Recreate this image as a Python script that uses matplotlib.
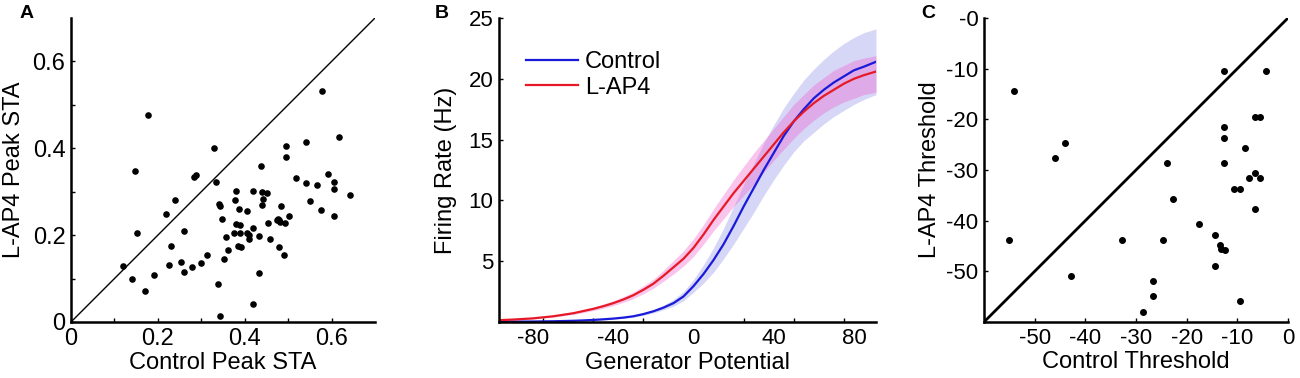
import matplotlib
matplotlib.use("Agg")
import matplotlib.pyplot as plt
from matplotlib.ticker import FixedLocator

plt.rcParams['font.family'] = ['Liberation Sans', 'DejaVu Sans']

# panel A: peak STA, control vs L-AP4
ctrl_sta = [0.178, 0.577, 0.330, 0.495, 0.540, 0.618, 0.495, 0.147, 0.287, 0.283,
            0.437, 0.333, 0.517, 0.591, 0.540, 0.566, 0.606, 0.606, 0.643, 0.381,
            0.418, 0.440, 0.451, 0.442, 0.377, 0.240, 0.340, 0.344, 0.440, 0.483,
            0.387, 0.405, 0.550, 0.575, 0.606, 0.502, 0.219, 0.347, 0.477, 0.480,
            0.475, 0.482, 0.492, 0.453, 0.381, 0.389, 0.419, 0.261, 0.153, 0.375,
            0.389, 0.405, 0.409, 0.411, 0.432, 0.358, 0.459, 0.230, 0.384, 0.391,
            0.480, 0.362, 0.490, 0.313, 0.353, 0.253, 0.300, 0.119, 0.226, 0.279,
            0.261, 0.432, 0.191, 0.141, 0.339, 0.170, 0.419, 0.343]
lap4_sta = [0.477, 0.532, 0.400, 0.405, 0.415, 0.425, 0.381, 0.348, 0.339, 0.333,
            0.360, 0.322, 0.332, 0.340, 0.319, 0.316, 0.322, 0.307, 0.293, 0.302,
            0.302, 0.300, 0.296, 0.284, 0.280, 0.282, 0.271, 0.267, 0.270, 0.267,
            0.261, 0.255, 0.279, 0.257, 0.244, 0.244, 0.248, 0.238, 0.238, 0.234,
            0.234, 0.231, 0.228, 0.227, 0.225, 0.223, 0.217, 0.210, 0.204, 0.205,
            0.205, 0.205, 0.201, 0.192, 0.198, 0.195, 0.190, 0.175, 0.175, 0.172,
            0.173, 0.166, 0.154, 0.154, 0.145, 0.139, 0.137, 0.130, 0.132, 0.127,
            0.116, 0.112, 0.108, 0.098, 0.087, 0.071, 0.041, 0.014]

# panel B: nonlinearity
gen_pot = [-97, -90, -80, -70, -60, -55, -50, -45, -40, -35, -30, -25, -20, -15, -10,
           -5, 0, 5, 10, 15, 20, 25, 30, 35, 40, 45, 50, 55, 60, 65, 70, 75, 80, 85, 91]
ctrl_rate = [0.02, 0.03, 0.04, 0.06, 0.1, 0.13, 0.17, 0.22, 0.28, 0.36, 0.47, 0.65, 0.88,
             1.18, 1.55, 2.1, 2.95, 3.95, 5.1, 6.4, 7.9, 9.5, 11.0, 12.5, 13.9, 15.3,
             16.5, 17.5, 18.4, 19.1, 19.7, 20.2, 20.7, 21.0, 21.4]
ctrl_lo = [0.01, 0.02, 0.03, 0.05, 0.08, 0.11, 0.14, 0.19, 0.24, 0.31, 0.4, 0.55, 0.75,
           1.0, 1.3, 1.75, 2.45, 3.2, 4.1, 5.2, 6.4, 7.7, 9.0, 10.4, 11.7, 12.9,
           14.0, 14.9, 15.6, 16.3, 16.9, 17.4, 17.9, 18.3, 18.7]
ctrl_hi = [0.03, 0.04, 0.05, 0.07, 0.12, 0.15, 0.2, 0.26, 0.33, 0.42, 0.55, 0.76, 1.03,
           1.38, 1.85, 2.5, 3.5, 4.7, 6.1, 7.7, 9.5, 11.3, 13.0, 14.7, 16.2, 17.6,
           18.8, 19.9, 20.8, 21.6, 22.3, 22.9, 23.4, 23.8, 24.1]
lap4_rate = [0.15, 0.2, 0.3, 0.47, 0.72, 0.9, 1.08, 1.3, 1.55, 1.85, 2.2, 2.65, 3.15,
             3.8, 4.5, 5.2, 6.1, 7.2, 8.4, 9.5, 10.6, 11.6, 12.6, 13.6, 14.6, 15.6,
             16.5, 17.3, 18.0, 18.6, 19.1, 19.6, 20.0, 20.3, 20.6]
lap4_lo = [0.12, 0.16, 0.25, 0.4, 0.62, 0.78, 0.94, 1.13, 1.35, 1.62, 1.93, 2.33, 2.78,
           3.35, 3.95, 4.6, 5.4, 6.4, 7.5, 8.5, 9.5, 10.4, 11.3, 12.3, 13.3, 14.2,
           15.1, 15.9, 16.6, 17.2, 17.7, 18.1, 18.4, 18.7, 18.9]
lap4_hi = [0.18, 0.24, 0.35, 0.54, 0.82, 1.02, 1.22, 1.47, 1.75, 2.08, 2.47, 2.97, 3.52,
           4.25, 5.05, 5.85, 6.85, 8.0, 9.3, 10.5, 11.7, 12.8, 13.9, 14.9, 15.9, 16.9,
           17.9, 18.7, 19.5, 20.1, 20.7, 21.1, 21.5, 21.7, 21.9]

# panel C: thresholds
ctrl_thr = [-54.1, -12.7, -4.4, -6.5, -5.5, -12.7, -12.7, -8.5, -44.0, -46.0, -23.8,
            -12.7, -6.5, -7.6, -5.5, -10.6, -9.4, -22.7, -6.5, -17.6, -55.0, -32.8,
            -24.6, -14.5, -13.5, -13.2, -12.5, -14.5, -42.9, -26.6, -26.6, -9.4, -28.6]
lap4_thr = [-14.5, -10.4, -10.4, -19.5, -19.5, -21.5, -23.6, -25.6, -24.6, -27.6, -28.7,
            -28.7, -30.6, -31.6, -31.6, -33.7, -33.7, -35.7, -37.7, -40.7, -43.8, -43.8,
            -43.8, -42.8, -44.8, -45.5, -45.8, -48.9, -50.9, -51.9, -54.9, -55.9, -58.0]

W, H = 1300, 378
fig = plt.figure(figsize=(13, 3.78), dpi=100)


def make_ax(l, r, t, b):
    ax = fig.add_axes([l / W, 1 - b / H, (r - l) / W, (b - t) / H])
    for s in ['top', 'right']:
        ax.spines[s].set_visible(False)
    for s in ['left', 'bottom']:
        ax.spines[s].set_linewidth(1.8)
    ax.tick_params(which='both', direction='in', length=3, width=1, pad=4)
    return ax


# A
axA = make_ax(71, 375, 18, 322)
axA.plot([0, 0.7], [0, 0.7], color='black', lw=1)
axA.scatter(ctrl_sta, lap4_sta, s=14, color='black', zorder=3)
axA.set_xlim(0, 0.7)
axA.set_ylim(0, 0.7)
axA.set_xticks([0, 0.2, 0.4, 0.6], ['0', '0.2', '0.4', '0.6'])
axA.set_yticks([0, 0.2, 0.4, 0.6], ['0', '0.2', '0.4', '0.6'])
axA.xaxis.set_minor_locator(FixedLocator([0.1, 0.3, 0.5]))
axA.yaxis.set_minor_locator(FixedLocator([0.1, 0.3, 0.5]))
axA.tick_params(labelsize=17)
axA.set_xlabel('Control Peak STA', fontsize=17, va='center')
axA.set_ylabel('L-AP4 Peak STA', fontsize=17, va='center')
axA.xaxis.set_label_coords(0.5, -0.134)
axA.yaxis.set_label_coords(-0.186, 0.5)

# B
axB = make_ax(499, 876, 18, 322)
axB.fill_between(gen_pot, ctrl_lo, ctrl_hi, color=(0.84, 0.84, 0.97), lw=0)
axB.fill_between(gen_pot, lap4_lo, lap4_hi, color=(0.95, 0.35, 0.8), alpha=0.35, lw=0)
axB.plot(gen_pot, ctrl_rate, color=(0.1, 0.1, 0.85), lw=1.6, label='Control')
axB.plot(gen_pot, lap4_rate, color=(0.9, 0.1, 0.15), lw=1.6, label='L-AP4')
axB.set_xlim(-97, 91)
axB.set_ylim(0, 25)
axB.set_xticks([-80, -40, 0, 40, 80], ['-80', '-40', '0', '40', '80'])
axB.xaxis.set_minor_locator(FixedLocator([-75, -50, -25, 0, 25, 50, 75]))
axB.tick_params(axis='x', which='major', length=0)
axB.set_yticks([5, 10, 15, 20, 25], ['5', '10', '15', '20', '25'])
axB.tick_params(labelsize=16)
axB.set_xlabel('Generator Potential', fontsize=17, va='center')
axB.set_ylabel('Firing Rate (Hz)', fontsize=17, va='center')
axB.xaxis.set_label_coords(0.5, -0.135)
axB.yaxis.set_label_coords(-0.141, 0.5)
axB.legend(loc='upper left', bbox_to_anchor=(0.04, 0.93), frameon=False, fontsize=17,
           handlelength=2.2, handletextpad=0.3, labelspacing=0.15, borderpad=0)

# C
axC = make_ax(984, 1288, 18, 322)
axC.plot([-60, 0], [-60, 0], color='black', lw=2)
axC.scatter(ctrl_thr, lap4_thr, s=16, color='black', zorder=3)
axC.set_xlim(-60, 0)
axC.set_ylim(-60, 0)
axC.set_xticks([-50, -40, -30, -20, -10, 0], ['-50', '-40', '-30', '-20', '-10', '0'])
axC.set_yticks([-50, -40, -30, -20, -10, 0], ['-50', '-40', '-30', '-20', '-10', '-0'])
axC.tick_params(labelsize=16)
axC.set_xlabel('Control Threshold', fontsize=17, va='center')
axC.set_ylabel('L-AP4 Threshold', fontsize=17, va='center')
axC.xaxis.set_label_coords(0.5, -0.132)
axC.yaxis.set_label_coords(-0.179, 0.5)

for letter, x in [('A', 27), ('B', 442), ('C', 928)]:
    fig.text(x / W, 1 - 13 / H, letter, fontsize=14, fontweight='bold', ha='center', va='center')

fig.savefig('out.png', dpi=100)
